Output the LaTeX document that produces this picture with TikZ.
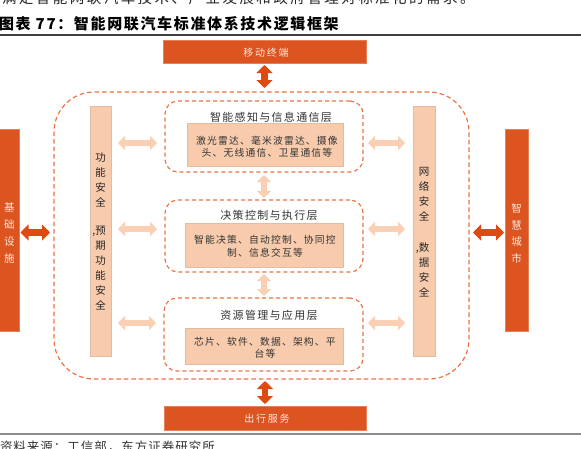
\documentclass[tikz,border=0pt]{standalone}
\usepackage{fontspec}
\setmainfont{Noto Sans CJK SC}
\newfontfamily\cjk{Noto Sans CJK SC}
\newfontfamily\cjksp[LetterSpace=12]{Noto Sans CJK SC}
\newfontfamily\cjkwide[LetterSpace=18]{Noto Sans CJK SC}
\usetikzlibrary{arrows.meta,calc}
\definecolor{dorange}{HTML}{DC5420}
\definecolor{darr}{HTML}{E04A12}
\definecolor{dashc}{HTML}{EA7444}
\definecolor{peach}{HTML}{F8CBAD}
\definecolor{parr}{HTML}{F9D0B4}
\definecolor{txt}{HTML}{333333}
\definecolor{cream}{HTML}{FCE9DC}
\tikzset{
  every node/.style={inner sep=0pt, outer sep=0pt},
  solidbox/.style={fill=dorange, draw=dorange!75!white, line width=0.6pt},
  peachbox/.style={fill=peach, draw=peach!80!gray, line width=0.5pt},
  dashbox/.style={draw=dashc, line width=1.2pt, dash pattern=on 4pt off 3pt, rounded corners=13pt},
  bigdash/.style={draw=dashc, line width=1.2pt, dash pattern=on 4.5pt off 3pt, rounded corners=40pt},
  darrow/.style={draw=darr, line width=6.5pt, {Triangle[width=16pt,length=8pt]}-{Triangle[width=16pt,length=8pt]}},
  parrow/.style={draw=parr, line width=5.5pt, {Triangle[width=14pt,length=7pt]}-{Triangle[width=14pt,length=7pt]}},
  layertitle/.style={font=\cjksp\fontsize{11}{13}\selectfont, text=txt},
  content/.style={font=\cjksp\fontsize{9.8}{12.5}\selectfont, text=txt, align=center},
  vstack/.style={font=\cjk\fontsize{10.5}{15}\selectfont, text=black!85, align=center},
  wstack/.style={font=\cjk\fontsize{10.5}{16.7}\selectfont, text=cream, align=center},
  whitelabel/.style={font=\cjkwide\fontsize{10}{12}\selectfont, text=cream},
}
\begin{document}
\begin{tikzpicture}[x=1pt, y=-1pt]
\useasboundingbox (0,0) rectangle (581,448);
\fill[white] (0,0) rectangle (581,448);
\clip (0,0) rectangle (581,448);

% header and footer text
\node[anchor=base west, font=\cjk\fontsize{14.5}{16}\selectfont, text=black!85] (toptext) at (2,3)
  {\addfontfeature{LetterSpace=17}满足智能网联汽车技术、产业发展和政府管理对标准化的需求。};
\node[anchor=base west, font=\cjk\bfseries\fontsize{15}{17}\selectfont, text=black] (title) at (-1,29)
  {\addfontfeature{LetterSpace=11}图表 77：智能网联汽车标准体系技术逻辑框架};
\coordinate (hl1) at (0,35);
\coordinate (hr1) at (581,35);
\draw[line width=1.5pt, black!75] (hl1) -- (hr1);
\coordinate (hl2) at (0,434);
\coordinate (hr2) at (581,434);
\draw[line width=1.5pt, black!45] (hl2) -- (hr2);
\node[anchor=base west, font=\cjk\fontsize{12.5}{14}\selectfont, text=black!80] (source) at (0,451)
  {\addfontfeature{LetterSpace=8}资料来源：工信部，东方证券研究所};

% outer boxes
\node[solidbox, minimum width=203pt, minimum height=23pt] (top) at (264.5,51.5) {};
\node[whitelabel] (toplabel) at (266,52.5) {移动终端};
\node[solidbox, minimum width=202pt, minimum height=24pt] (bottom) at (265,418) {};
\node[whitelabel] (botlabel) at (267,419) {出行服务};
\node[solidbox, minimum width=20pt, minimum height=202pt] (jc) at (9.5,230) {};
\node[wstack] (jclabel) at (9.5,233) {基\\础\\设\\施};
\node[solidbox, minimum width=23pt, minimum height=202pt] (zh) at (516.5,230) {};
\node[wstack] (zhlabel) at (516.5,233.5) {智\\慧\\城\\市};

% big dashed frame
\node[bigdash, minimum width=415pt, minimum height=287pt] (big) at (261.5,235.5) {};

% side tall boxes
\node[peachbox, minimum width=21pt, minimum height=250pt] (leftT) at (100.5,231) {};
\node[vstack] (lt1) at (100.5,179.5) {功\\能\\安\\全};
\node[vstack] (lt2) at (100.5,268.5) {\llap{,}预\\期\\功\\能\\安\\全};
\node[peachbox, minimum width=22pt, minimum height=250pt] (rightT) at (424,231) {};
\node[vstack] (rt1) at (424,194.5) {网\\络\\安\\全};
\node[vstack] (rt2) at (424,270) {\llap{,}数\\据\\安\\全};

% layers
\node[dashbox, minimum width=198pt, minimum height=71pt] (L1) at (264,136.5) {};
\node[layertitle] (T1) at (271,117) {智能感知与信息通信层};
\node[peachbox, minimum width=156pt, minimum height=43pt] (C1) at (265,144.5) {};
\node[content] (X1) at (267,146.5) {激光雷达、毫米波雷达、摄像\\头、无线通信、卫星通信等};

\node[dashbox, minimum width=198pt, minimum height=72pt] (L2) at (264,236) {};
\node[layertitle] (T2) at (269,215) {决策控制与执行层};
\node[peachbox, minimum width=158pt, minimum height=44pt] (C2) at (264,245) {};
\node[content] (X2) at (265,246.5) {智能决策、自动控制、协同控\\制、信息交互等};

\node[dashbox, minimum width=199pt, minimum height=73pt] (L3) at (263.5,334.5) {};
\node[layertitle] (T3) at (269,315) {资源管理与应用层};
\node[peachbox, minimum width=158pt, minimum height=36pt] (C3) at (264,346) {};
\node[content] (X3) at (265,348) {芯片、软件、数据、架构、平\\台等};

% dark arrows
\draw[darrow, shorten <=2pt, shorten >=4pt] (top.south) -- (top.south |- big.north);
\draw[darrow, shorten <=2pt, shorten >=2pt] (bottom.north |- big.south) -- (bottom.north);
\coordinate (ydark) at (0,232.5);
\draw[darrow, shorten <=1pt, shorten >=4pt] (jc.east |- ydark) -- (big.west |- ydark);
\draw[darrow, shorten <=4pt, shorten >=1pt] (big.east |- ydark) -- (zh.west |- ydark);

% peach arrows vertical
\coordinate (xv) at (264,0);
\draw[parrow, shorten <=3pt, shorten >=2pt] (xv |- L1.south) -- (xv |- L2.north);
\draw[parrow, shorten <=2pt, shorten >=2pt] (xv |- L2.south) -- (xv |- L3.north);

% peach arrows horizontal
\coordinate (ya) at (0,143);
\coordinate (yb) at (0,229);
\coordinate (yc) at (0,323);
\draw[parrow, shorten <=7pt, shorten >=8pt] (leftT.east |- ya) -- (L1.west |- ya);
\draw[parrow, shorten <=7pt, shorten >=8pt] (leftT.east |- yb) -- (L2.west |- yb);
\draw[parrow, shorten <=7pt, shorten >=8pt] (leftT.east |- yc) -- (L3.west |- yc);
\draw[parrow, shorten <=5pt, shorten >=8pt] (L1.east |- ya) -- (rightT.west |- ya);
\draw[parrow, shorten <=5pt, shorten >=8pt] (L2.east |- yb) -- (rightT.west |- yb);
\draw[parrow, shorten <=5pt, shorten >=8pt] (L3.east |- yc) -- (rightT.west |- yc);
\end{tikzpicture}
\end{document}
